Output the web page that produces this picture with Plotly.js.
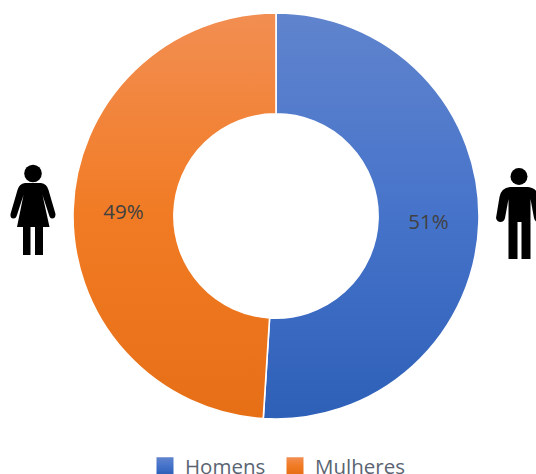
<!DOCTYPE html>
<html><head><meta charset="utf-8">
<script src="https://cdn.plot.ly/plotly-3.0.1.min.js"></script>
<style>html,body{margin:0;padding:0;background:#fff;overflow:hidden}</style>
</head><body><div id="chart" style="width:536px;height:474px"></div>
<script>
const categories = ["Homens", "Mulheres"];
const shares = [51, 49];
const sliceColors = ["#4472C4", "#ED7D31"];
const gradients = [["#6084CD", "#4673CA", "#2E60B8"], ["#F28E52", "#F17B24", "#E66F16"]];

const icons = `<svg xmlns="http://www.w3.org/2000/svg" viewBox="0 0 536 474" width="536" height="474">
<g fill="#000">
<circle cx="33" cy="173.5" r="8.8"/>
<path d="M25 183 H41 Q47 184 48.500 190 L55.500 214 Q55.500 218.500 52 218.500 Q50 218.500 49 215 L42.500 195 L49.500 227 H43 V255 H35 V227 H30.500 V255 H23 V227 H17 L23.500 195 L17 215 Q16 218.500 13.500 218.500 Q10 218.500 10.500 214 L17.500 190 Q19 184 25 183 Z"/>
<circle cx="519" cy="176.500" r="8.500"/>
<path d="M510 187 H528 Q537 188 539 197 L542 218 Q541 222 538 222 Q535 222 534 218 L530.500 199 V259 H521.500 V222 H517.500 V259 H508.500 V199 L505 218 Q504 222 500.500 222 Q497 222 496 218 L499.500 197 Q501 188 510 187 Z"/>
</g></svg>`;

const layout = {
  width: 536, height: 474,
  margin: {l: 0, r: 0, t: 0, b: 0, autoexpand: false},
  paper_bgcolor: "#fff",
  font: {family: "Open Sans, sans-serif", color: "#595959"},
  showlegend: true,
  legend: {orientation: "h", x: 145 / 536, xanchor: "left", y: -0.025, yanchor: "bottom",
           font: {size: 20.5, color: "#5A6472"}, entrywidth: 85, entrywidthmode: "pixels"},
  images: [{source: "data:image/svg+xml;charset=utf-8," + encodeURIComponent(icons),
            xref: "paper", yref: "paper", x: 0, y: 1, sizex: 1, sizey: 1,
            xanchor: "left", yanchor: "top", sizing: "stretch", layer: "below"}]
};

const trace = {
  type: "pie", labels: categories, values: shares, hole: 0.503,
  sort: false, direction: "clockwise", rotation: 0,
  marker: {colors: sliceColors, line: {color: "#fff", width: 1.6}},
  textinfo: "percent", textposition: "inside", insidetextorientation: "horizontal",
  textfont: {size: 20.5, color: "#404040"},
  domain: {x: [73 / 536, 479 / 536], y: [1 - 419 / 474, 1 - 13 / 474]},
  hoverinfo: "label+percent"
};

function applyGradients() {
  const svg = document.querySelector("#chart .main-svg");
  const NS = "http://www.w3.org/2000/svg";
  let defs = svg.querySelector("defs");
  gradients.forEach((stops, i) => {
    const g = document.createElementNS(NS, "linearGradient");
    g.setAttribute("id", "sliceGrad" + i);
    g.setAttribute("x1", "0"); g.setAttribute("y1", "0");
    g.setAttribute("x2", "0"); g.setAttribute("y2", "1");
    stops.forEach((c, j) => {
      const s = document.createElementNS(NS, "stop");
      s.setAttribute("offset", String(j / (stops.length - 1)));
      s.setAttribute("stop-color", c);
      g.appendChild(s);
    });
    defs.appendChild(g);
  });
  document.querySelectorAll("#chart .slice path.surface").forEach((p, i) => {
    p.style.fill = "url(#sliceGrad" + i + ")";
  });
  document.querySelectorAll("#chart .legend .traces").forEach((t, i) => {
    const p = t.querySelector("path.legendpie");
    if (p) {
      p.setAttribute("d", "M8.5,8.5H-8.5V-8.5H8.5Z");
      p.style.fill = "url(#sliceGrad" + i + ")";
      p.style.strokeWidth = "0";
    }
  });
}

Plotly.newPlot("chart", [trace], layout, {displayModeBar: false}).then(applyGradients);
</script></body></html>
